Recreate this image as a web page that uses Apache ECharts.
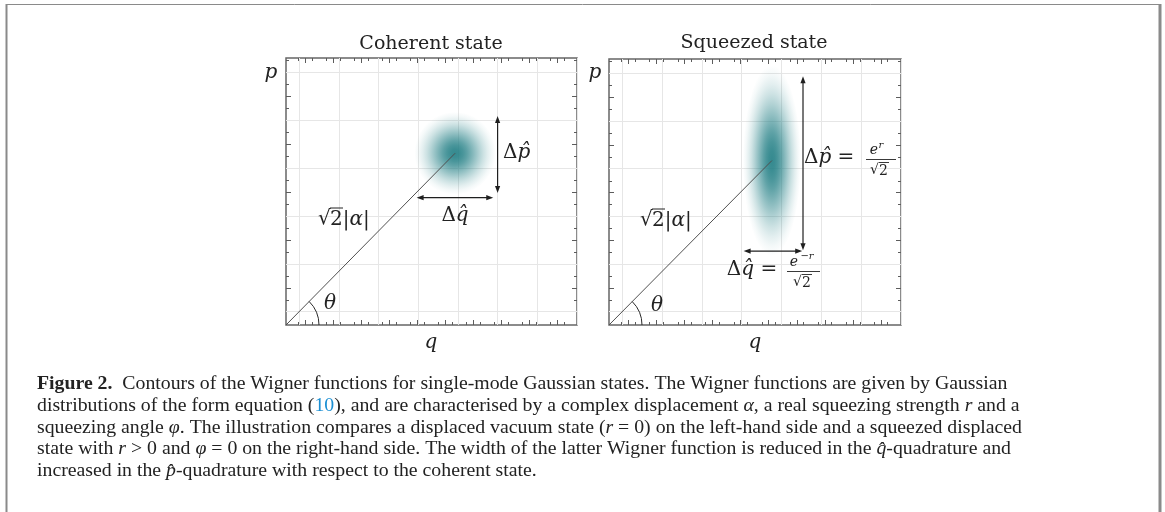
<!DOCTYPE html>
<html>
<head>
<meta charset="utf-8">
<title>Wigner functions</title>
<script src="https://cdn.jsdelivr.net/npm/echarts@6/dist/echarts.min.js"></script>
<style>
html, body { margin: 0; padding: 0; background: #fff; }
#main { width: 1165px; height: 512px; }
</style>
</head>
<body>
<div id="main"></div>
<script>
// 坐标范围 / 网格线 (plot units)
var qRange = [-0.33, 7];
var pRange = [-0.28, 5.3];
var qGrid = [0, 1, 2, 3, 4, 5, 6, 7];
var pGrid = [0, 1, 2, 3, 4, 5];

// tick marks along the frame
var qTicks = [0.15, 0.85, 1.56, 2.26, 2.97, 3.67, 4.38, 5.08, 5.79, 6.49];
var qTicksMinor = [-0.02, 0.32, 0.68, 1.02, 1.39, 1.73, 2.09, 2.43, 2.80, 3.14,
                   3.50, 3.84, 4.21, 4.55, 4.91, 5.25, 5.62, 5.96, 6.32, 6.66];
var pTicks = [0.5, 1.5, 2.5, 3.5, 4.5];
var pTicksMinor = [0.25, 0.75, 1.25, 1.75, 2.25, 2.75, 3.25, 3.75, 4.25, 4.75, 5.25];

// the two states
var states = ['Coherent state', 'Squeezed state'];
var centerQ = [3.93, 3.76];
var centerP = [3.31, 3.17];
var sigmaQ = [0.38, 0.27];
var sigmaP = [0.32, 0.74];

// Δp arrow (vertical) and Δq arrow (horizontal)
var dpArrowQ = [5.0, 4.54];
var dpArrowP = [[2.48, 4.09], [1.29, 4.94]];
var dqArrowP = [2.38, 1.27];
var dqArrowQ = [[2.96, 4.89], [3.05, 4.52]];

var serif = '"DejaVu Serif", serif';
var textSerif = '"Liberation Serif", serif';
var ink = '#222';

// gaussian fade for the Wigner function
var teal = [36, 128, 134];
var gaussStops = [];
for (var k = 0; k <= 10; k++) {
    var t = k / 10;
    var a = k == 10 ? 0 : 0.92 * Math.exp(-2.6 * t * t) * (1 - Math.pow(t, 6));
    gaussStops.push({offset: t, color: 'rgba(' + teal.join(',') + ',' + a.toFixed(3) + ')'});
}

function tickData(major, minor) {
    return major.map(function (v) { return [v, 1]; })
        .concat(minor.map(function (v) { return [v, 0]; }));
}

function arrowHead(x, y, ux, uy) {
    var L = 7, W = 2.6;
    return {
        type: 'polygon',
        shape: {points: [[x, y], [x - ux * L - uy * W, y - uy * L + ux * W], [x - ux * L + uy * W, y - uy * L - ux * W]]},
        style: {fill: '#1f1f1f'}
    };
}

function panelSeries(i) {
    var tickStyle = {stroke: '#5c5c5c', lineWidth: 1};
    return [
        // q ticks (top and bottom)
        {
            type: 'custom', xAxisIndex: i, yAxisIndex: i, silent: true, clip: false, z: 3,
            data: tickData(qTicks, qTicksMinor),
            renderItem: function (params, api) {
                var cs = params.coordSys;
                var x = Math.round(api.coord([api.value(0), pRange[0]])[0]) + 0.5;
                var len = api.value(1) ? 5 : 3;
                return {type: 'group', children: [
                    {type: 'line', shape: {x1: x, y1: cs.y + cs.height, x2: x, y2: cs.y + cs.height - len}, style: tickStyle},
                    {type: 'line', shape: {x1: x, y1: cs.y, x2: x, y2: cs.y + len}, style: tickStyle}
                ]};
            }
        },
        // p ticks (left and right)
        {
            type: 'custom', xAxisIndex: i, yAxisIndex: i, silent: true, clip: false, z: 3,
            data: tickData(pTicks, pTicksMinor).map(function (d) { return [qRange[0], d[0], d[1]]; }),
            renderItem: function (params, api) {
                var cs = params.coordSys;
                var y = Math.round(api.coord([qRange[0], api.value(1)])[1]) + 0.5;
                var len = api.value(2) ? 5 : 3;
                return {type: 'group', children: [
                    {type: 'line', shape: {x1: cs.x, y1: y, x2: cs.x + len, y2: y}, style: tickStyle},
                    {type: 'line', shape: {x1: cs.x + cs.width, y1: y, x2: cs.x + cs.width - len, y2: y}, style: tickStyle}
                ]};
            }
        },
        // Wigner function
        {
            type: 'custom', xAxisIndex: i, yAxisIndex: i, silent: true, z: 4,
            data: [[centerQ[i], centerP[i], sigmaQ[i], sigmaP[i]]],
            renderItem: function (params, api) {
                var c = api.coord([api.value(0), api.value(1)]);
                var s = api.size([api.value(2), api.value(3)]);
                var rx = s[0] * 2.7, ry = s[1] * 2.7;
                return {
                    type: 'circle', x: c[0], y: c[1], scaleX: 1, scaleY: ry / rx,
                    shape: {cx: 0, cy: 0, r: rx},
                    style: {fill: {type: 'radial', x: 0.5, y: 0.5, r: 0.5, colorStops: gaussStops}}
                };
            }
        },
        // displacement sqrt(2)|alpha|
        {
            type: 'line', xAxisIndex: i, yAxisIndex: i, silent: true, z: 5,
            symbol: 'none', animation: false,
            data: [[qRange[0], pRange[0]], [centerQ[i], centerP[i]]],
            lineStyle: {color: '#505050', width: 1}
        },
        // theta arc
        {
            type: 'custom', xAxisIndex: i, yAxisIndex: i, silent: true, clip: false, z: 6,
            data: [[qRange[0], pRange[0], centerQ[i], centerP[i]]],
            renderItem: function (params, api) {
                var o = api.coord([api.value(0), api.value(1)]);
                var c = api.coord([api.value(2), api.value(3)]);
                var ang = Math.atan2(c[1] - o[1], c[0] - o[0]);
                return {
                    type: 'arc',
                    shape: {cx: o[0], cy: o[1], r: 33, startAngle: ang, endAngle: 0, clockwise: true},
                    style: {stroke: '#2a2a2a', fill: null, lineWidth: 1}
                };
            }
        },
        // Δp, Δq arrows
        {
            type: 'custom', xAxisIndex: i, yAxisIndex: i, silent: true, clip: false, z: 6,
            data: [
                [dpArrowQ[i], dpArrowP[i][0], dpArrowQ[i], dpArrowP[i][1]],
                [dqArrowQ[i][0], dqArrowP[i], dqArrowQ[i][1], dqArrowP[i]]
            ],
            renderItem: function (params, api) {
                var a = api.coord([api.value(0), api.value(1)]);
                var b = api.coord([api.value(2), api.value(3)]);
                var dx = b[0] - a[0], dy = b[1] - a[1];
                var d = Math.sqrt(dx * dx + dy * dy);
                var ux = dx / d, uy = dy / d;
                return {type: 'group', children: [
                    {type: 'line', shape: {x1: a[0] + ux * 4, y1: a[1] + uy * 4, x2: b[0] - ux * 4, y2: b[1] - uy * 4},
                        style: {stroke: '#1f1f1f', lineWidth: 1.2}},
                    arrowHead(b[0], b[1], ux, uy),
                    arrowHead(a[0], a[1], -ux, -uy)
                ]};
            }
        }
    ];
}

function txt(x, y, s, size, opt) {
    opt = opt || {};
    return {
        type: 'text', x: x, y: y, silent: true, z: 10,
        style: {
            text: s, fill: opt.fill || ink,
            fontFamily: opt.family || serif, fontSize: size,
            fontStyle: opt.italic ? 'italic' : 'normal',
            align: opt.align || 'center', verticalAlign: 'middle',
            rich: opt.rich
        }
    };
}
function hline(x1, x2, y, w, color) {
    return {type: 'line', silent: true, z: 10, shape: {x1: x1, y1: y, x2: x2, y2: y},
        style: {stroke: color || ink, lineWidth: w || 1}};
}
function vline(x, y1, y2, w, color) {
    return {type: 'line', silent: true, z: 10, shape: {x1: x, y1: y1, x2: x, y2: y2},
        style: {stroke: color || ink, lineWidth: w || 1}};
}

var mSize = 20;
var mathRich = {
    i: {fontFamily: serif, fontStyle: 'italic', fontSize: mSize, fill: ink},
    n: {fontFamily: serif, fontStyle: 'normal', fontSize: mSize, fill: ink}
};
var capSize = 19.8;
var capRich = {
    b: {fontFamily: textSerif, fontSize: capSize, fontWeight: 'bold', fill: ink},
    i: {fontFamily: textSerif, fontSize: capSize, fontStyle: 'italic', fill: ink},
    l: {fontFamily: textSerif, fontSize: capSize, fill: '#1b8fd3'}
};
var caption = [
    '{b|Figure 2.}  Contours of the Wigner functions for single-mode Gaussian states. The Wigner functions are given by Gaussian',
    'distributions of the form equation ({l|10}), and are characterised by a complex displacement {i|α}, a real squeezing strength {i|r} and a',
    'squeezing angle {i|φ}. The illustration compares a displaced vacuum state ({i|r} = 0) on the left-hand side and a squeezed displaced',
    'state with {i|r} > 0 and {i|φ} = 0 on the right-hand side. The width of the latter Wigner function is reduced in the {i|q̂}-quadrature and',
    'increased in the {i|p̂}-quadrature with respect to the coherent state.'
];
var captionY = [384, 406, 428, 449, 471];

// sqrt(2)|alpha| label: radical, bar over the 2, rest
function sqrtAlpha(cx, cy) {
    return [
        txt(cx - 28, cy, '√', mSize, {align: 'left'}),
        hline(cx - 16, cx - 3, cy - 11, 1),
        txt(cx - 16, cy + 1, '{n|2|}{i|α}{n||}', mSize, {align: 'left', rich: mathRich})
    ];
}
function sqrt2(cx, cy) {
    return [
        txt(cx - 11, cy, '√', 14, {align: 'left'}),
        hline(cx - 2, cx + 8, cy - 7.5, 0.9),
        txt(cx - 2, cy + 1, '2', 14, {align: 'left'})
    ];
}

var graphics = [
    // figure frame
    hline(6, 1159, 4.5, 1, '#8a8a8a'),
    vline(6.5, 4, 512, 2, '#8a8a8a'),
    vline(1160, 4, 512, 3, '#8a8a8a'),
    // titles and axis names
    txt(431, 44, states[0], 19),
    txt(754, 43, states[1], 19),
    txt(271, 73, 'p', 20, {italic: true}),
    txt(595, 73, 'p', 20, {italic: true}),
    txt(431, 343, 'q', 20, {italic: true}),
    txt(755, 343, 'q', 20, {italic: true}),
    // coherent labels
    txt(503, 153, '{n|Δ}{i|p̂}', mSize, {align: 'left', rich: mathRich}),
    txt(455, 216, '{n|Δ}{i|q̂}', mSize, {rich: mathRich}),
    txt(330, 304, 'θ', mSize, {italic: true}),
    // squeezed labels
    txt(657, 306, 'θ', mSize, {italic: true}),
    txt(804, 158, '{n|Δ}{i|p̂} {n|=}', mSize, {align: 'left', rich: mathRich}),
    txt(874, 150, 'e', 14, {italic: true}),
    txt(881, 145, 'r', 10, {italic: true}),
    hline(866, 896, 159.5, 0.9),
    txt(752, 270, '{n|Δ}{i|q̂} {n|=}', mSize, {rich: mathRich}),
    txt(794, 262, 'e', 14, {italic: true}),
    txt(807, 256, '−r', 10, {italic: true}),
    hline(787, 820, 271.5, 0.9)
].concat(sqrtAlpha(346, 219), sqrtAlpha(668, 220), sqrt2(881, 170), sqrt2(804, 282));

for (var j = 0; j < caption.length; j++) {
    graphics.push({
        type: 'text', x: 37, y: captionY[j], silent: true, z: 10,
        style: {
            text: caption[j], fill: ink, fontFamily: textSerif, fontSize: capSize,
            align: 'left', verticalAlign: 'middle', rich: capRich
        }
    });
}

var grids = [
    {left: 286, top: 58, width: 291, height: 267},
    {left: 609, top: 59, width: 292, height: 266}
];

var option = {
    animation: false,
    backgroundColor: '#fff',
    grid: grids.map(function (g) {
        return {left: g.left, top: g.top, width: g.width, height: g.height,
            show: true, borderColor: '#666', borderWidth: 1.5, backgroundColor: 'transparent'};
    }),
    xAxis: [0, 1].map(function (i) {
        return {
            type: 'value', gridIndex: i, min: qRange[0], max: qRange[1],
            axisLine: {show: false}, axisLabel: {show: false},
            axisTick: {show: false, customValues: qGrid},
            splitLine: {show: true, lineStyle: {color: '#e6e6e6', width: 1}}
        };
    }),
    yAxis: [0, 1].map(function (i) {
        return {
            type: 'value', gridIndex: i, min: pRange[0], max: pRange[1],
            axisLine: {show: false}, axisLabel: {show: false},
            axisTick: {show: false, customValues: pGrid},
            splitLine: {show: true, lineStyle: {color: '#e6e6e6', width: 1}}
        };
    }),
    series: panelSeries(0).concat(panelSeries(1)),
    graphic: graphics
};

var myChart = echarts.init(document.getElementById('main'));
myChart.setOption(option);
</script>
</body>
</html>
